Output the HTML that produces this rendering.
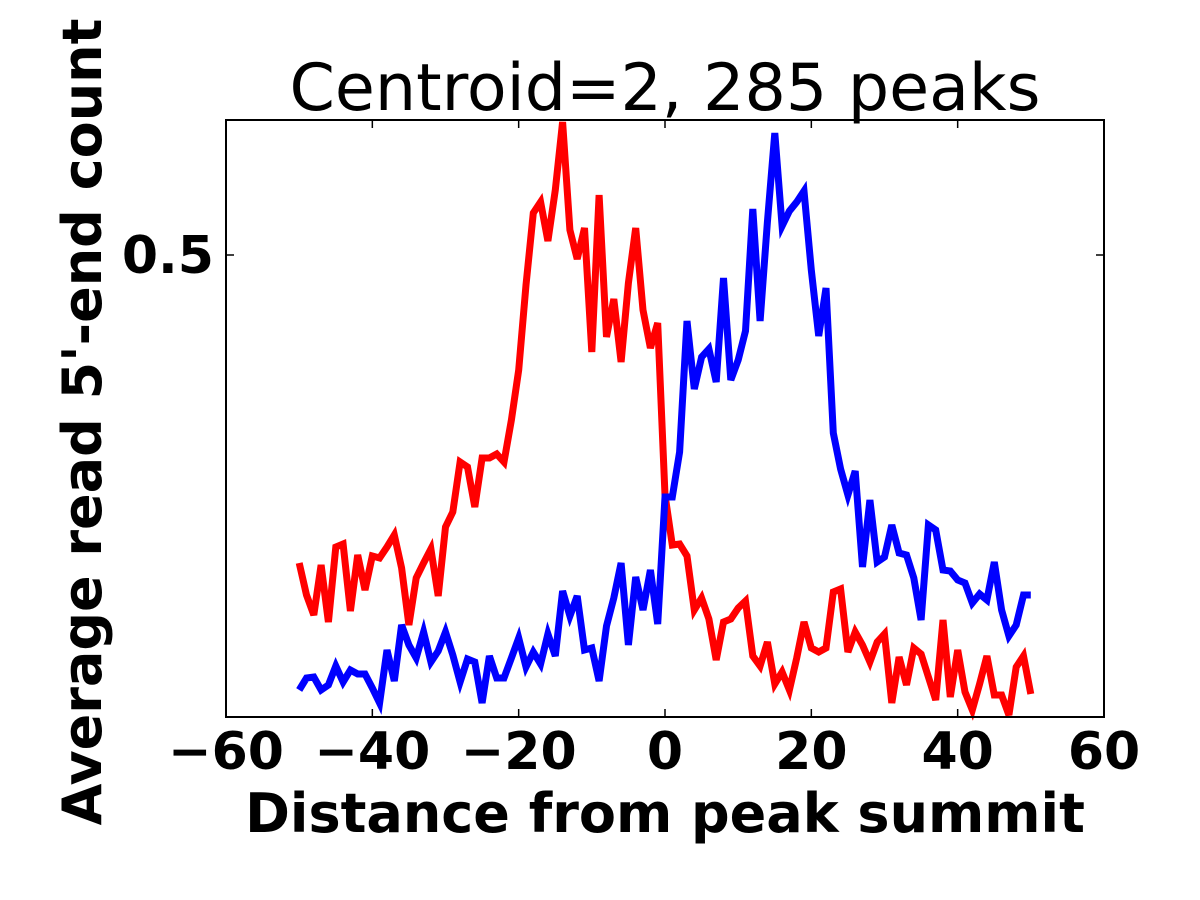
<!DOCTYPE html>
<html><head><meta charset="utf-8"><style>
body{margin:0;background:#fff;}
svg{display:block;font-family:"DejaVu Sans","Liberation Sans",sans-serif;}
</style></head><body>
<svg id="chart" width="1200" height="900" xmlns="http://www.w3.org/2000/svg"></svg>
<script>
const xStart = -50;
const redValues = [.192,.160,.140,.190,.133,.208,.211,.144,.200,.165,.199,.197,.208,.220,.187,.130,.177,.192,.206,.159,.228,.243,.293,.288,.248,.297,.297,.301,.293,.335,.385,.470,.542,.553,.514,.565,.633,.525,.496,.527,.403,.560,.418,.456,.393,.472,.527,.445,.407,.432,.260,.210,.211,.199,.145,.157,.136,.095,.133,.136,.147,.154,.099,.089,.113,.071,.083,.065,.097,.133,.107,.103,.107,.163,.166,.103,.123,.110,.093,.113,.121,.052,.098,.070,.107,.101,.078,.055,.135,.058,.105,.063,.045,.071,.099,.060,.060,.040,.088,.099,.061];
const blueValues = [.065,.077,.078,.065,.070,.089,.073,.085,.081,.081,.067,.052,.105,.074,.130,.110,.097,.123,.093,.104,.123,.100,.073,.096,.093,.052,.099,.077,.077,.097,.117,.088,.103,.091,.121,.099,.164,.139,.159,.105,.107,.074,.129,.157,.192,.110,.178,.145,.185,.131,.258,.258,.303,.434,.366,.398,.406,.373,.477,.375,.395,.424,.546,.434,.533,.622,.529,.544,.553,.564,.485,.419,.467,.322,.286,.260,.284,.188,.255,.193,.198,.230,.202,.200,.177,.135,.230,.225,.185,.184,.175,.172,.152,.161,.155,.193,.145,.119,.130,.160,.160];
const xTicks = [-60,-40,-20,0,20,40,60];
const yTicks = [0.5];
const xDomain = [-60,60], yDomain = [0.038,0.635];
const L=226,R=1104,T=120,B=717;
const sx=v=>L+(v-xDomain[0])/(xDomain[1]-xDomain[0])*(R-L);
const sy=v=>B-(v-yDomain[0])/(yDomain[1]-yDomain[0])*(B-T);
const svg=document.getElementById('chart');
const NS='http://www.w3.org/2000/svg';
function mk(tag,attrs,parent){const e=document.createElementNS(NS,tag);for(const k in attrs)e.setAttribute(k,attrs[k]);(parent||svg).appendChild(e);return e;}
function series(vals,color,name){
  const pts=vals.map((v,i)=>sx(xStart+i).toFixed(1)+','+sy(v).toFixed(1)).join(' ');
  const p=mk('polyline',{points:pts,fill:'none',stroke:color,'stroke-width':7,'stroke-linejoin':'miter','stroke-miterlimit':4});
  
  
}
series(redValues,'#ff0000','red-series-line');
series(blueValues,'#0000ff','blue-series-line');
const frame=mk('rect',{x:L,y:T,width:R-L,height:B-T,fill:'none',stroke:'#000','stroke-width':2});


xTicks.forEach(t=>{
  const x=sx(t);
  mk('line',{x1:x,y1:B,x2:x,y2:B-8,stroke:'#000','stroke-width':1.5});
  mk('line',{x1:x,y1:T,x2:x,y2:T+8,stroke:'#000','stroke-width':1.5});
  const tx=mk('text',{x:x,y:B+52,'text-anchor':'middle','font-size':52,'font-weight':'bold'});
  tx.textContent=(t<0?'\u2212':'')+Math.abs(t);
  
  
});
yTicks.forEach(t=>{
  const y=sy(t);
  mk('line',{x1:L,y1:y,x2:L+8,y2:y,stroke:'#000','stroke-width':1.5});
  mk('line',{x1:R,y1:y,x2:R-8,y2:y,stroke:'#000','stroke-width':1.5});
  const tx=mk('text',{x:L-12,y:y+18,'text-anchor':'end','font-size':52,'font-weight':'bold'});
  tx.textContent=t;
  
  
});
const title=mk('text',{x:665,y:110,'text-anchor':'middle','font-size':65});
title.textContent='Centroid=2, 285 peaks';


const xl=mk('text',{x:665,y:832,'text-anchor':'middle','font-size':54,'font-weight':'bold'});
xl.textContent='Distance from peak summit';


const yl=mk('text',{x:0,y:0,'text-anchor':'middle','font-size':54,'font-weight':'bold',transform:'translate(101,422) rotate(-90)'});
yl.textContent="Average read 5'-end count";


</script>
</body></html>
